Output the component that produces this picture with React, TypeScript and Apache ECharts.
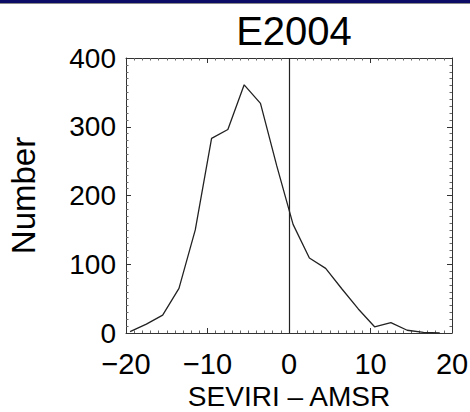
import React, { useEffect, useRef } from "react";
import * as echarts from "echarts";

const titleText = "E2004";
const xName = "SEVIRI – AMSR";
const yName = "Number";
const binCenters = [-19.5, -17.5, -15.5, -13.5, -11.5, -9.5, -7.5, -5.5, -3.5, -1.5, 0.5, 2.5, 4.5, 6.5, 8.5, 10.5, 12.5, 14.5, 16.5, 18.5];
const counts = [2, 13, 26, 65, 150, 283, 296, 361, 334, 243, 158, 109, 94, 64, 35, 9, 15, 4, 1, 0];
const refLineX = [0];

const FONT = "Liberation Sans, Arial, Helvetica, sans-serif";

export default function App() {
  const ref = useRef<HTMLDivElement>(null);
  useEffect(() => {
    if (!ref.current) return;
    const chart = echarts.init(ref.current, null, { renderer: "svg" });
    const axisColor = "#333";
    const tickCommon = {
      axisLine: { show: true, onZero: false, lineStyle: { color: axisColor, width: 1 } },
      axisTick: { show: true, inside: true, length: 5, lineStyle: { color: axisColor, width: 1 } },
      minorTick: { show: true, splitNumber: 10, length: 2.5, lineStyle: { color: "#666", width: 1 } },
      splitLine: { show: false },
      minorSplitLine: { show: false },
    };
    const fmt = (v: number) => String(v).replace("-", "\u2212");
    chart.setOption({
      animation: false,
      backgroundColor: "#fff",
      title: {
        text: titleText,
        left: 289,
        textAlign: "center",
        top: 6,
        textStyle: { fontFamily: FONT, fontSize: 40, fontWeight: "normal", color: "#000" },
      },
      graphic: [
        { type: "rect", shape: { x: 0, y: 0, width: 470, height: 3 }, style: { fill: "#0c0c66" } },
        { type: "rect", shape: { x: 0, y: 3, width: 470, height: 1 }, style: { fill: "#8a8a8a" } },
      ],
      grid: { left: 126, right: 18, top: 58, bottom: 79, containLabel: false, outerBoundsMode: "none" },
      xAxis: [
        {
          type: "value",
          min: -20,
          max: 20,
          interval: 10,
          position: "bottom",
          name: xName,
          nameLocation: "middle",
          nameGap: 42,
          nameTextStyle: { fontFamily: FONT, fontSize: 28, lineHeight: 28, color: "#000" },
          axisLabel: { fontFamily: FONT, fontSize: 29, color: "#000", margin: 16, formatter: fmt },
          ...tickCommon,
        },
        {
          type: "value",
          min: -20,
          max: 20,
          interval: 10,
          position: "top",
          axisLabel: { show: false },
          ...tickCommon,
        },
      ],
      yAxis: [
        {
          type: "value",
          min: 0,
          max: 400,
          interval: 100,
          position: "left",
          name: yName,
          nameLocation: "middle",
          nameGap: 86,
          nameRotate: 90,
          nameTextStyle: { fontFamily: FONT, fontSize: 33, color: "#000" },
          axisLabel: { fontFamily: FONT, fontSize: 28, color: "#000", margin: 10 },
          ...tickCommon,
        },
        {
          type: "value",
          min: 0,
          max: 400,
          interval: 100,
          position: "right",
          axisLabel: { show: false },
          ...tickCommon,
        },
      ],
      series: [
        {
          type: "line",
          data: binCenters.map((x, i) => [x, counts[i]]),
          showSymbol: false,
          symbol: "none",
          lineStyle: { color: "#222", width: 1.3 },
          clip: true,
          markLine: {
            silent: true,
            symbol: "none",
            label: { show: false },
            lineStyle: { color: "#222", width: 1.2, type: "solid" },
            data: refLineX.map((v) => ({ xAxis: v })),
          },
        },
      ],
    });
    return () => chart.dispose();
  }, []);
  return (
    <div
      ref={ref}
      style={{ position: "absolute", left: 0, top: 0, width: 470, height: 412, background: "#fff" }}
    />
  );
}
